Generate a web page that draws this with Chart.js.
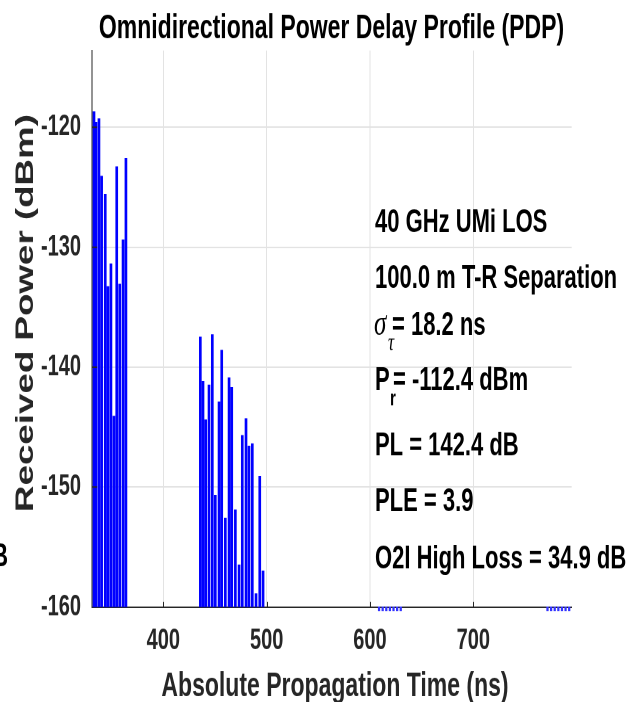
<!DOCTYPE html>
<html>
<head>
<meta charset="utf-8">
<title>Omnidirectional Power Delay Profile (PDP)</title>
<script src="https://cdn.jsdelivr.net/npm/chart.js"></script>
<style>
  html, body { margin: 0; padding: 0; background: #fff; }
</style>
</head>
<body>
<canvas id="chart" width="637" height="478" style="display:block;width:637px;height:702px"></canvas>
<script>
"use strict";

// The original figure is stretched vertically, so draw short and let CSS stretch it
const STRETCH = 702 / 478;
const py = v => v / STRETCH;

// First multipath cluster (ns, dBm)
const firstTimes  = [333.9, 335.8, 338.7, 341.3, 344.8, 347.4, 350.3, 353.2, 355.9, 358.8, 362.0, 364.8];
const firstPowers = [-118.7, -119.6, -119.3, -124.1, -125.6, -133.3, -131.4, -144.1, -123.3, -133.1, -129.4, -122.6];

// Second multipath cluster (ns, dBm)
const secondTimes  = [436.8, 439.4, 442.0, 445.2, 448.4, 451.3, 454.9, 457.5, 461.0, 464.6,
                      467.2, 470.7, 474.3, 477.4, 481.0, 483.9, 487.1, 490.7, 494.3, 497.5];
const secondPowers = [-137.5, -141.2, -144.4, -141.5, -137.3, -150.7, -142.9, -138.6, -152.6, -140.9,
                      -141.7, -151.9, -156.5, -145.7, -144.3, -146.6, -146.4, -158.9, -149.1, -157.0];

// Noise floor blips just under the axis
const noiseTimes  = [608, 611.5, 615, 618.5, 622, 625.5, 629, 771, 774.5, 778, 781.5, 785, 788.5, 792];
const noisePowers = [-160.3, -160.3, -160.3, -160.3, -160.3, -160.3, -160.3,
                     -160.3, -160.3, -160.3, -160.3, -160.3, -160.3, -160.3];

// Axes
const xTicks = [400, 500, 600, 700];
const yTicks = [-160, -150, -140, -130, -120];
const xRange = [331, 795.2];
const yRange = [-160, -113.6];
const FLOOR = -160;

const titleText = "Omnidirectional Power Delay Profile (PDP)";
const xTitle = "Absolute Propagation Time (ns)";
const yTitle = "Received Power (dBm)";

// Annotation lines: [main, subscript, rest]
const infoLines = [
    ["40 GHz UMi LOS", "", ""],
    ["100.0 m T-R Separation", "", ""],
    ["\u03C3", "\u03C4", "= 18.2 ns"],
    ["P", "r", "= -112.4 dBm"],
    ["PL = 142.4 dB", "", ""],
    ["PLE = 3.9", "", ""],
    ["O2I High Loss = 34.9 dB", "", ""]
];
const infoBaselines = [232, 288, 335, 390, 455, 511, 568];

const SANS = '"Liberation Sans", Arial, Helvetica, sans-serif';
const SERIF = '"Liberation Serif", "DejaVu Serif", serif';

function toBars(times, powers) {
    return times.map((t, i) => ({ x: t, y: [FLOOR, powers[i]] }));
}

const data = {
    datasets: [
        {
            label: 'PDP',
            data: toBars(firstTimes, firstPowers).concat(toBars(secondTimes, secondPowers)),
            backgroundColor: '#0000ff',
            borderWidth: 0,
            barThickness: 2
        },
        {
            label: 'Noise',
            data: toBars(noiseTimes, noisePowers),
            backgroundColor: '#3333ff',
            borderWidth: 0,
            barThickness: 1.6,
            clip: false
        }
    ]
};

// Titles, annotations and inward tick marks
const decorations = {
    id: 'decorations',
    afterDraw(chart) {
        const ctx = chart.ctx;
        const area = chart.chartArea;
        const xs = chart.scales.x;
        const ys = chart.scales.y;

        ctx.save();

        // inward tick marks
        ctx.strokeStyle = '#262626';
        ctx.lineWidth = 1;
        ctx.beginPath();
        xTicks.forEach(v => {
            const x = Math.round(xs.getPixelForValue(v)) + 0.5;
            ctx.moveTo(x, area.bottom);
            ctx.lineTo(x, area.bottom - py(5));
        });
        yTicks.forEach(v => {
            if (v === FLOOR) return;
            const y = ys.getPixelForValue(v);
            ctx.moveTo(area.left, y);
            ctx.lineTo(area.left + 5, y);
        });
        ctx.stroke();

        // title
        ctx.fillStyle = '#000';
        ctx.textAlign = 'center';
        ctx.textBaseline = 'alphabetic';
        ctx.font = 'bold 23px ' + SANS;
        ctx.fillText(titleText, 331.5, py(38));

        // x axis title
        ctx.fillStyle = '#262626';
        ctx.font = 'bold 23px ' + SANS;
        ctx.fillText(xTitle, 335, py(696));

        // y axis title
        ctx.save();
        ctx.translate(33, py(313));
        ctx.rotate(-Math.PI / 2);
        ctx.font = 'bold 25px ' + SANS;
        ctx.fillText(yTitle, 0, 0);
        ctx.restore();

        // annotation block
        ctx.fillStyle = '#000';
        ctx.textAlign = 'left';
        infoLines.forEach((line, i) => {
            const base = py(infoBaselines[i]);
            const [main, sub, rest] = line;
            if (!sub) {
                ctx.font = 'bold 22px ' + SANS;
                ctx.fillText(main, 375, base);
                return;
            }
            if (main === '\u03C3') {
                ctx.font = 'italic 25px ' + SERIF;
                ctx.fillText(main, 374, base);
                ctx.font = 'italic 17px ' + SERIF;
                ctx.fillText(sub, 388, base + py(15));
                ctx.font = 'bold 22px ' + SANS;
                ctx.fillText(rest, 392, base);
            } else {
                ctx.font = 'bold 22px ' + SANS;
                ctx.fillText(main, 375, base);
                ctx.font = 'bold 15px ' + SANS;
                ctx.fillText(sub, 390, base + py(15));
                ctx.font = 'bold 22px ' + SANS;
                ctx.fillText(rest, 393, base);
            }
        });

        // remnant of the neighbouring panel's text at the left edge
        ctx.textAlign = 'right';
        ctx.font = 'bold 22px ' + SANS;
        ctx.fillText('dB', 8, py(566));

        ctx.restore();
    }
};

const config = {
    type: 'bar',
    data: data,
    options: {
        responsive: false,
        animation: false,
        devicePixelRatio: 2,
        layout: {
            padding: { left: 0, top: py(50.5), right: 637 - 571.7, bottom: 0 }
        },
        plugins: {
            legend: { display: false },
            title: { display: false },
            tooltip: { enabled: false }
        },
        scales: {
            x: {
                type: 'linear',
                offset: false,
                min: xRange[0],
                max: xRange[1],
                afterBuildTicks: s => { s.ticks = xTicks.map(v => ({ value: v })); },
                afterFit: s => { s.height = 478 - py(607); },
                grid: { offset: false, color: '#e3e3e3', drawTicks: false },
                border: { color: '#262626', width: 1 },
                ticks: {
                    padding: 11,
                    color: '#262626',
                    font: { family: SANS, weight: 'bold', size: 20 }
                }
            },
            y: {
                type: 'linear',
                beginAtZero: false,
                min: yRange[0],
                max: yRange[1],
                afterBuildTicks: s => { s.ticks = yTicks.map(v => ({ value: v })); },
                afterFit: s => { s.width = 92; },
                grid: { color: '#e3e3e3', drawTicks: false },
                border: { color: '#262626', width: 1 },
                ticks: {
                    padding: 11,
                    color: '#262626',
                    font: { family: SANS, weight: 'bold', size: 20 }
                }
            }
        }
    },
    plugins: [decorations]
};

// Initialize chart
const chart = new Chart(document.getElementById('chart').getContext('2d'), config);
</script>
</body>
</html>
